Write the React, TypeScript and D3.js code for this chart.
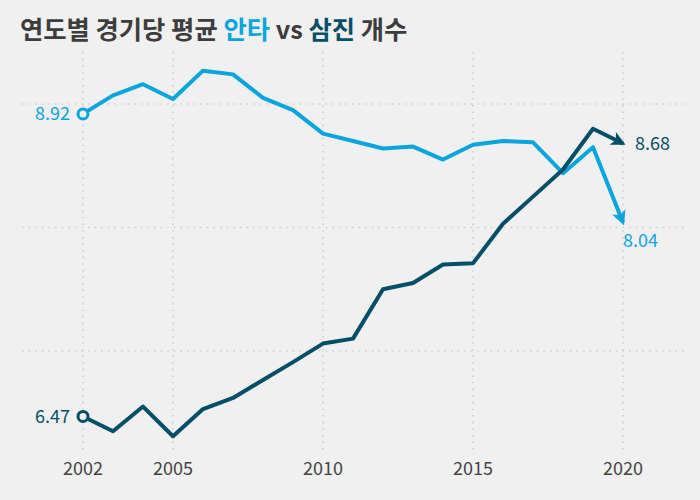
import * as d3 from 'd3';

const years = [2002, 2003, 2004, 2005, 2006, 2007, 2008, 2009, 2010, 2011, 2012, 2013, 2014, 2015, 2016, 2017, 2018, 2019, 2020];
const hits = [8.92, 9.07, 9.16, 9.04, 9.27, 9.24, 9.05, 8.95, 8.76, 8.7, 8.64, 8.655, 8.55, 8.67, 8.7, 8.69, 8.44, 8.65, 8.04];
const strikeouts = [6.47, 6.35, 6.55, 6.31, 6.53, 6.62, 6.765, 6.91, 7.06, 7.1, 7.5, 7.55, 7.7, 7.71, 8.03, 8.25, 8.47, 8.8, 8.68];
const xTicks = [2002, 2005, 2010, 2015, 2020];
const yGrid = [7, 8, 9];

const W = 700;
const H = 500;
const BLUE = '#0aa5de';
const DARK = '#044f68';
const TEXT = '#444444';
const FONT = '"Noto Sans CJK KR", "Noto Sans", sans-serif';

export default function App() {
  const x = d3.scaleLinear().domain([2002, 2020]).range([83, 623]);
  const y = d3.scaleLinear().domain([7, 9]).range([351, 104]);

  const line = d3.line<number>()
    .x((_, i) => x(years[i]))
    .y(d => y(d));

  const last = years.length - 1;

  return (
    <div>
      <style>{`body{margin:0;background:#f0f0f0}`}</style>
      <svg width={W} height={H} viewBox={`0 0 ${W} ${H}`} style={{ display: 'block', fontFamily: FONT }}>
        <defs>
          {[['arr-blue', BLUE], ['arr-dark', DARK]].map(([id, c]) => (
            <marker key={id} id={id} viewBox="0 0 10 10" refX="8" refY="5"
              markerWidth="3.6" markerHeight="3.6" markerUnits="strokeWidth" orient="auto">
              <path d="M0,0 L10,5 L0,10 L2.5,5 Z" fill={c} />
            </marker>
          ))}
        </defs>
        <rect width={W} height={H} fill="#f0f0f0" />

        {/* title */}
        <text x={20} y={39} fontSize={25.3} fontWeight={700} fill="#3d3d3d">
          연도별 경기당 평균 <tspan fill={BLUE}>안타</tspan> vs <tspan fill={DARK}>삼진</tspan> 개수
        </text>

        {/* grid */}
        {yGrid.map(v => (
          <line key={'h' + v} x1={22} x2={684} y1={y(v)} y2={y(v)}
            stroke="#cfcfcf" strokeWidth={1.6} strokeDasharray="1.6,5" />
        ))}
        {xTicks.map(t => (
          <line key={'v' + t} x1={x(t)} x2={x(t)} y1={52} y2={455}
            stroke="#cfcfcf" strokeWidth={1.6} strokeDasharray="1.6,5" />
        ))}

        {/* x tick labels */}
        {xTicks.map(t => (
          <text key={'t' + t} x={x(t)} y={475} textAnchor="middle" fontSize={18} fill={TEXT}>{t}</text>
        ))}

        {/* lines */}
        <path d={line(hits) ?? ''} fill="none" stroke={BLUE} strokeWidth={4}
          strokeLinejoin="round" markerEnd="url(#arr-blue)" />
        <path d={line(strikeouts) ?? ''} fill="none" stroke={DARK} strokeWidth={4}
          strokeLinejoin="round" markerEnd="url(#arr-dark)" />

        {/* start markers */}
        <circle cx={x(years[0])} cy={y(hits[0])} r={5} fill="#f0f0f0" stroke={BLUE} strokeWidth={3} />
        <circle cx={x(years[0])} cy={y(strikeouts[0])} r={5} fill="#f0f0f0" stroke={DARK} strokeWidth={3} />

        {/* value labels */}
        <text x={x(years[0]) - 13} y={y(hits[0])} dy="0.35em" textAnchor="end" fontSize={18} fill={BLUE}>
          {hits[0].toFixed(2)}
        </text>
        <text x={x(years[0]) - 13} y={y(strikeouts[0])} dy="0.35em" textAnchor="end" fontSize={18} fill={DARK}>
          {strikeouts[0].toFixed(2)}
        </text>
        <text x={x(years[last]) + 12} y={y(strikeouts[last])} dy="0.35em" fontSize={18} fill={DARK}>
          {strikeouts[last].toFixed(2)}
        </text>
        <text x={x(years[last])} y={y(hits[last]) + 18} dy="0.35em" fontSize={18} fill={BLUE}>
          {hits[last].toFixed(2)}
        </text>
      </svg>
    </div>
  );
}
